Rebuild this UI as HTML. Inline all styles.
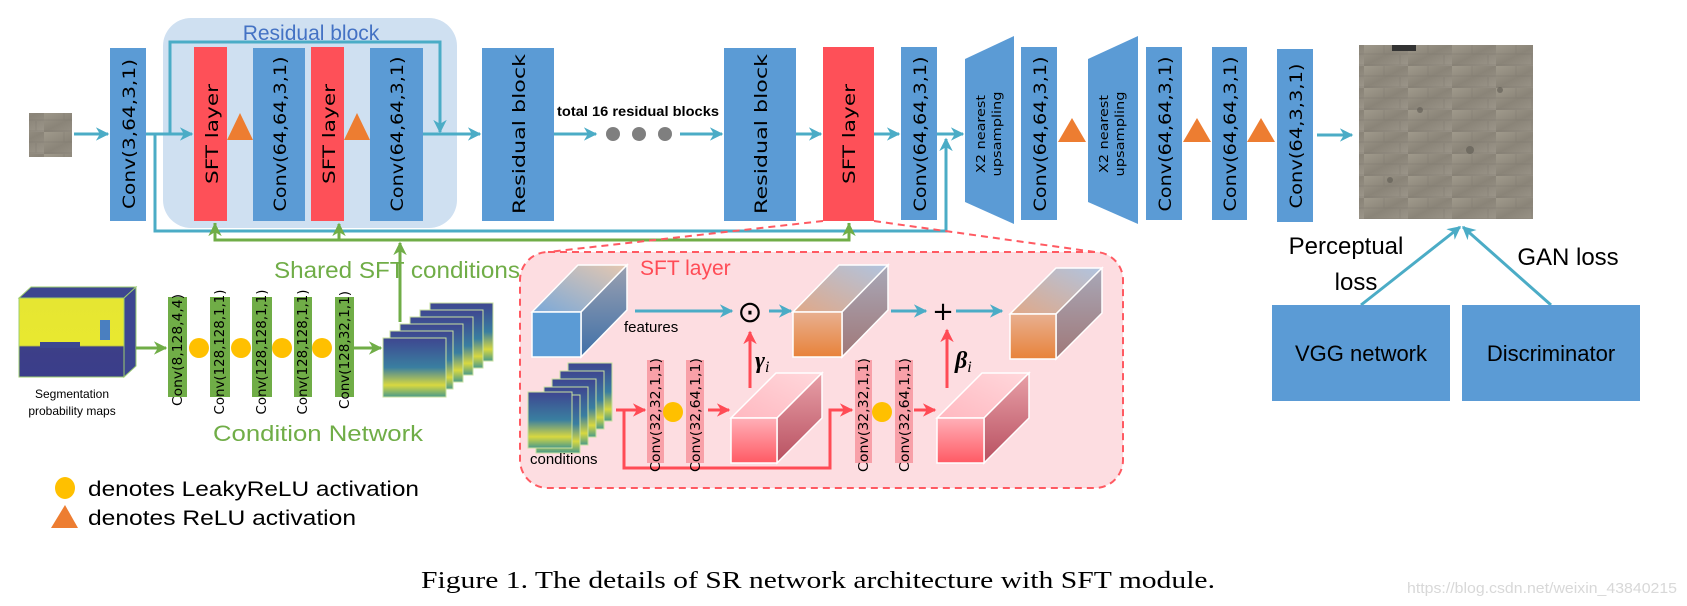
<!DOCTYPE html>
<html><head><meta charset="utf-8"><style>
html,body{margin:0;padding:0;background:#fff;}
svg{display:block;}
.lbl{font-family:"DejaVu Sans",sans-serif;font-size:17px;fill:#000;}
.cal{font-family:"Liberation Sans",sans-serif;}
.ser{font-family:"Liberation Serif",serif;}
</style></head><body>
<svg width="1687" height="606" viewBox="0 0 1687 606" xmlns="http://www.w3.org/2000/svg">
<defs>
<marker id="at" viewBox="0 0 10 10" refX="9" refY="5" markerWidth="4.5" markerHeight="4.5" orient="auto"><path d="M0,0 L10,5 L0,10 L3,5z" fill="#4bacc6"/></marker>
<marker id="ag" viewBox="0 0 10 10" refX="9" refY="5" markerWidth="4.5" markerHeight="4.5" orient="auto"><path d="M0,0 L10,5 L0,10 L3,5z" fill="#70ad47"/></marker>
<marker id="ar" viewBox="0 0 10 10" refX="9" refY="5" markerWidth="4.5" markerHeight="4.5" orient="auto"><path d="M0,0 L10,5 L0,10 L3,5z" fill="#ff4b55"/></marker>
<linearGradient id="img" x1="0" y1="0" x2="1" y2="1"><stop offset="0" stop-color="#a09a8c"/><stop offset=".5" stop-color="#8a8478"/><stop offset="1" stop-color="#9c968a"/></linearGradient>
<pattern id="stone" width="44" height="22" patternUnits="userSpaceOnUse"><rect width="44" height="22" fill="url(#img)"/><path d="M0,21 H44 M20,0 V10 M36,11 V21 M0,10 H44" stroke="#77726a" stroke-width="1" opacity=".35"/></pattern>
<linearGradient id="seg" x1="0" y1="0" x2="0" y2="1"><stop offset="0" stop-color="#e6e632"/><stop offset=".6" stop-color="#e8e830"/><stop offset=".62" stop-color="#3d3f88"/><stop offset="1" stop-color="#3a3d8a"/></linearGradient>
<linearGradient id="segs" x1="0" y1="0" x2="0" y2="1"><stop offset="0" stop-color="#3e4690"/><stop offset=".5" stop-color="#3a7fa0"/><stop offset=".8" stop-color="#d8d840"/><stop offset="1" stop-color="#4a9a8a"/></linearGradient>
<linearGradient id="btop" x1="0" y1="1" x2="1" y2="0"><stop offset="0" stop-color="#7aa8d8"/><stop offset="1" stop-color="#e6c8b0"/></linearGradient>
<linearGradient id="bside" x1="0" y1="0" x2="0" y2="1"><stop offset="0" stop-color="#9aa0b0"/><stop offset="1" stop-color="#3f70a8"/></linearGradient>
<linearGradient id="ofront" x1="0" y1="0" x2="0" y2="1"><stop offset="0" stop-color="#e8b090"/><stop offset="1" stop-color="#e8823a"/></linearGradient>
<linearGradient id="otop" x1="0" y1="1" x2="1" y2="0"><stop offset="0" stop-color="#e0a888"/><stop offset="1" stop-color="#b0c4e0"/></linearGradient>
<linearGradient id="oside" x1="0" y1="0" x2="0" y2="1"><stop offset="0" stop-color="#a8a8b8"/><stop offset="1" stop-color="#a07878"/></linearGradient>
<linearGradient id="pfront" x1="0" y1="0" x2="0" y2="1"><stop offset="0" stop-color="#ffb0b8"/><stop offset="1" stop-color="#ff5a64"/></linearGradient>
<linearGradient id="ptop" x1="0" y1="1" x2="1" y2="0"><stop offset="0" stop-color="#ffb8c0"/><stop offset="1" stop-color="#ffd8dc"/></linearGradient>
<linearGradient id="pside" x1="0" y1="0" x2="0" y2="1"><stop offset="0" stop-color="#e8a0a8"/><stop offset="1" stop-color="#b85060"/></linearGradient>
</defs>

<rect x="163" y="18" width="294" height="210" rx="28" fill="#cfe0f1"/>
<text x="311" y="40" text-anchor="middle" class="cal" font-size="21" fill="#4472c4">Residual block</text>

<rect x="29" y="113" width="43" height="44" fill="url(#stone)"/>

<g stroke="#4bacc6" stroke-width="3" fill="none">
<line x1="74" y1="134" x2="108" y2="134" marker-end="url(#at)"/>
<line x1="146" y1="134" x2="192" y2="134" marker-end="url(#at)"/>
<polyline points="170,134 170,42 440,42 440,132" marker-end="url(#at)"/>
<line x1="423" y1="134" x2="480" y2="134" marker-end="url(#at)"/>
<line x1="554" y1="134" x2="596" y2="134" marker-end="url(#at)"/>
<line x1="680" y1="134" x2="722" y2="134" marker-end="url(#at)"/>
<line x1="796" y1="134" x2="821" y2="134" marker-end="url(#at)"/>
<line x1="874" y1="134" x2="899" y2="134" marker-end="url(#at)"/>
<line x1="937" y1="134" x2="963" y2="134" marker-end="url(#at)"/>
<polyline points="155,134 155,231 946,231 946,139" marker-end="url(#at)"/>
<line x1="1317" y1="135" x2="1352" y2="135" marker-end="url(#at)"/>
<line x1="1361" y1="305" x2="1460" y2="227" marker-end="url(#at)"/>
<line x1="1551" y1="305" x2="1463" y2="227" marker-end="url(#at)"/>
</g>
<g stroke="#70ad47" stroke-width="3" fill="none">
<polyline points="215,223 215,240 849,240 849,223" />
<line x1="215" y1="240" x2="215" y2="224" marker-end="url(#ag)"/>
<line x1="339" y1="240" x2="339" y2="224" marker-end="url(#ag)"/>
<line x1="849" y1="240" x2="849" y2="224" marker-end="url(#ag)"/>
<line x1="400" y1="322" x2="400" y2="243" marker-end="url(#ag)"/>
</g>

<g fill="#5b9bd5">
<rect x="110" y="48" width="36" height="173"/>
<rect x="253" y="48" width="52" height="173"/>
<rect x="370" y="48" width="53" height="173"/>
<rect x="482" y="48" width="72" height="173"/>
<rect x="724" y="48" width="72" height="173"/>
<rect x="901" y="47" width="36" height="173"/>
<polygon points="965,59 1014,36 1014,224 965,202"/>
<rect x="1021" y="47" width="36" height="173"/>
<polygon points="1088,59 1138,36 1138,224 1088,202"/>
<rect x="1146" y="47" width="36" height="173"/>
<rect x="1212" y="47" width="35" height="173"/>
<rect x="1277" y="49" width="36" height="173"/>
<rect x="1272" y="305" width="178" height="96"/>
<rect x="1462" y="305" width="178" height="96"/>
</g>
<g fill="#fe5058">
<rect x="194" y="47" width="33" height="174"/>
<rect x="311" y="47" width="33" height="174"/>
<rect x="823" y="47" width="51" height="174"/>
</g>
<g fill="#ed7d31">
<polygon points="227,140 240,113 253,140"/>
<polygon points="344,140 357,113 370,140"/>
<polygon points="1058,142 1072,118 1086,142"/>
<polygon points="1183,142 1197,118 1211,142"/>
<polygon points="1247,142 1261,118 1275,142"/>
</g>
<g class="lbl">
<text transform="translate(135,134) rotate(-90)" text-anchor="middle" textLength="150" lengthAdjust="spacingAndGlyphs">Conv(3,64,3,1)</text>
<text transform="translate(218,134) rotate(-90)" text-anchor="middle" textLength="100" lengthAdjust="spacingAndGlyphs">SFT layer</text>
<text transform="translate(286,134) rotate(-90)" text-anchor="middle" textLength="155" lengthAdjust="spacingAndGlyphs">Conv(64,64,3,1)</text>
<text transform="translate(335,134) rotate(-90)" text-anchor="middle" textLength="100" lengthAdjust="spacingAndGlyphs">SFT layer</text>
<text transform="translate(403,134) rotate(-90)" text-anchor="middle" textLength="155" lengthAdjust="spacingAndGlyphs">Conv(64,64,3,1)</text>
<text transform="translate(525,134) rotate(-90)" text-anchor="middle" textLength="160" lengthAdjust="spacingAndGlyphs">Residual block</text>
<text transform="translate(767,134) rotate(-90)" text-anchor="middle" textLength="160" lengthAdjust="spacingAndGlyphs">Residual block</text>
<text transform="translate(855,134) rotate(-90)" text-anchor="middle" textLength="100" lengthAdjust="spacingAndGlyphs">SFT layer</text>
<text transform="translate(926,134) rotate(-90)" text-anchor="middle" textLength="155" lengthAdjust="spacingAndGlyphs">Conv(64,64,3,1)</text>
<text transform="translate(1046,134) rotate(-90)" text-anchor="middle" textLength="155" lengthAdjust="spacingAndGlyphs">Conv(64,64,3,1)</text>
<text transform="translate(1171,134) rotate(-90)" text-anchor="middle" textLength="155" lengthAdjust="spacingAndGlyphs">Conv(64,64,3,1)</text>
<text transform="translate(1236,134) rotate(-90)" text-anchor="middle" textLength="155" lengthAdjust="spacingAndGlyphs">Conv(64,64,3,1)</text>
<text transform="translate(1302,136) rotate(-90)" text-anchor="middle" textLength="145" lengthAdjust="spacingAndGlyphs">Conv(64,3,3,1)</text>
<text transform="translate(985,134) rotate(-90)" text-anchor="middle" font-size="12" textLength="78" lengthAdjust="spacingAndGlyphs">X2 nearest</text>
<text transform="translate(1001,134) rotate(-90)" text-anchor="middle" font-size="12" textLength="85" lengthAdjust="spacingAndGlyphs">upsampling</text>
<text transform="translate(1108,134) rotate(-90)" text-anchor="middle" font-size="12" textLength="78" lengthAdjust="spacingAndGlyphs">X2 nearest</text>
<text transform="translate(1124,134) rotate(-90)" text-anchor="middle" font-size="12" textLength="85" lengthAdjust="spacingAndGlyphs">upsampling</text>
</g>
<text x="557" y="116" class="cal" font-size="14" font-weight="bold" textLength="162" lengthAdjust="spacingAndGlyphs">total 16 residual blocks</text>
<g fill="#7f7f7f"><circle cx="613" cy="134" r="7"/><circle cx="639" cy="134" r="7"/><circle cx="665" cy="134" r="7"/></g>

<rect x="1359" y="45" width="174" height="174" fill="url(#stone)"/>
<g fill="#5e5a52" opacity=".6"><circle cx="1420" cy="110" r="3"/><circle cx="1470" cy="150" r="4"/><circle cx="1390" cy="180" r="3"/><circle cx="1500" cy="90" r="3"/></g>
<rect x="1392" y="45" width="24" height="6" fill="#333"/>
<text x="1346" y="254" text-anchor="middle" class="cal" font-size="24">Perceptual</text>
<text x="1356" y="290" text-anchor="middle" class="cal" font-size="24">loss</text>
<text x="1568" y="265" text-anchor="middle" class="cal" font-size="24">GAN loss</text>
<text x="1361" y="361" text-anchor="middle" class="cal" font-size="22">VGG network</text>
<text x="1551" y="361" text-anchor="middle" class="cal" font-size="22">Discriminator</text>

<rect x="520" y="252" width="603" height="236" rx="28" fill="#fddde1" stroke="#ff5a62" stroke-width="2" stroke-dasharray="7,5"/>
<line x1="823" y1="221" x2="548" y2="252" stroke="#ff5a62" stroke-width="2" stroke-dasharray="7,5"/>
<line x1="874" y1="221" x2="1095" y2="252" stroke="#ff5a62" stroke-width="2" stroke-dasharray="7,5"/>
<text x="640" y="275" class="cal" font-size="21" fill="#ff4b55">SFT layer</text>
<text x="274" y="278" class="cal" font-size="23" fill="#70ad47" textLength="246" lengthAdjust="spacingAndGlyphs">Shared SFT conditions</text>

<g stroke="#fff" stroke-width="1.5">
<polygon points="532,312 578,265 627,265 581,312" fill="url(#btop)"/>
<polygon points="581,312 627,265 627,310 581,357" fill="url(#bside)"/>
<rect x="532" y="312" width="49" height="45" fill="#5b9bd5"/>
<polygon points="793,312 839,265 888,265 842,312" fill="url(#otop)"/>
<polygon points="842,312 888,265 888,310 842,357" fill="url(#oside)"/>
<rect x="793" y="312" width="49" height="45" fill="url(#ofront)"/>
<polygon points="1010,314 1056,268 1102,268 1056,314" fill="url(#otop)"/>
<polygon points="1056,314 1102,268 1102,313 1056,359" fill="url(#oside)"/>
<rect x="1010" y="314" width="46" height="45" fill="url(#ofront)"/>
<polygon points="731,418 776,373 822,373 777,418" fill="url(#ptop)"/>
<polygon points="777,418 822,373 822,418 777,463" fill="url(#pside)"/>
<rect x="731" y="418" width="46" height="45" fill="url(#pfront)"/>
<polygon points="937,418 982,373 1029,373 984,418" fill="url(#ptop)"/>
<polygon points="984,418 1029,373 1029,418 984,463" fill="url(#pside)"/>
<rect x="937" y="418" width="47" height="45" fill="url(#pfront)"/>
</g>
<g stroke="#4bacc6" stroke-width="3" fill="none">
<line x1="635" y1="311" x2="732" y2="311" marker-end="url(#at)"/>
<line x1="769" y1="311" x2="791" y2="311" marker-end="url(#at)"/>
<line x1="891" y1="311" x2="926" y2="311" marker-end="url(#at)"/>
<line x1="956" y1="311" x2="1002" y2="311" marker-end="url(#at)"/>
</g>
<text x="750" y="322" text-anchor="middle" font-family="DejaVu Sans,sans-serif" font-size="30">⊙</text>
<text x="943" y="320" text-anchor="middle" font-family="DejaVu Sans,sans-serif" font-size="26">+</text>
<text x="624" y="332" class="cal" font-size="15">features</text>
<text x="755" y="368" class="ser" font-size="24" font-weight="bold" font-style="italic">γ<tspan font-size="16" dy="4" font-weight="normal">i</tspan></text>
<text x="955" y="368" class="ser" font-size="24" font-weight="bold" font-style="italic">β<tspan font-size="16" dy="4" font-weight="normal">i</tspan></text>
<g stroke="#ff4b55" stroke-width="3" fill="none">
<line x1="750" y1="388" x2="750" y2="332" marker-end="url(#ar)"/>
<line x1="947" y1="388" x2="947" y2="330" marker-end="url(#ar)"/>
<line x1="616" y1="410" x2="645" y2="410" marker-end="url(#ar)"/>
<line x1="708" y1="410" x2="729" y2="410" marker-end="url(#ar)"/>
<polyline points="624,410 624,468 830,468 830,410 852,410" marker-end="url(#ar)"/>
<line x1="914" y1="410" x2="935" y2="410" marker-end="url(#ar)"/>
</g>
<g fill="#f8a0a8">
<rect x="647" y="360" width="17" height="103"/>
<rect x="686" y="360" width="18" height="103"/>
<rect x="855" y="360" width="17" height="103"/>
<rect x="895" y="360" width="18" height="103"/>
</g>
<g fill="#ffc000"><ellipse cx="673" cy="412" rx="10" ry="10"/><ellipse cx="882" cy="412" rx="10" ry="10"/></g>
<g class="lbl">
<text transform="translate(660,415) rotate(-90)" text-anchor="middle" font-size="13" textLength="114" lengthAdjust="spacingAndGlyphs">Conv(32,32,1,1)</text>
<text transform="translate(700,415) rotate(-90)" text-anchor="middle" font-size="13" textLength="114" lengthAdjust="spacingAndGlyphs">Conv(32,64,1,1)</text>
<text transform="translate(868,415) rotate(-90)" text-anchor="middle" font-size="13" textLength="114" lengthAdjust="spacingAndGlyphs">Conv(32,32,1,1)</text>
<text transform="translate(909,415) rotate(-90)" text-anchor="middle" font-size="13" textLength="114" lengthAdjust="spacingAndGlyphs">Conv(32,64,1,1)</text>
</g>
<g stroke="#c8e0a0" stroke-width="1">
<rect x="568" y="363" width="44" height="58" fill="url(#segs)"/>
<rect x="560" y="371" width="44" height="58" fill="url(#segs)"/>
<rect x="552" y="379" width="44" height="58" fill="url(#segs)"/>
<rect x="544" y="387" width="44" height="58" fill="url(#segs)"/>
<rect x="536" y="395" width="44" height="58" fill="url(#segs)"/>
<rect x="528" y="392" width="44" height="56" fill="url(#segs)"/>
</g>
<text x="530" y="464" class="cal" font-size="15">conditions</text>

<polygon points="19,298 31,287 136,287 124,298" fill="#3d4690" stroke="#9ccc70"/>
<polygon points="124,298 136,287 136,366 124,377" fill="#3d4690" stroke="#9ccc70"/>
<rect x="19" y="298" width="105" height="79" fill="url(#seg)" stroke="#9ccc70"/>
<g fill="#3d4690"><rect x="40" y="342" width="40" height="6"/><rect x="100" y="320" width="10" height="20" fill="#4a7fc0"/></g>
<text x="72" y="398" text-anchor="middle" class="cal" font-size="12">Segmentation</text>
<text x="72" y="415" text-anchor="middle" class="cal" font-size="12">probability maps</text>
<g stroke="#70ad47" stroke-width="3">
<line x1="136" y1="348" x2="166" y2="348" marker-end="url(#ag)"/>
<line x1="354" y1="348" x2="381" y2="348" marker-end="url(#ag)"/>
</g>
<g fill="#70ad47">
<rect x="168" y="297" width="19" height="100"/>
<rect x="210" y="297" width="20" height="100"/>
<rect x="252" y="297" width="20" height="100"/>
<rect x="294" y="297" width="18" height="100"/>
<rect x="335" y="297" width="19" height="100"/>
</g>
<g fill="#ffc000"><circle cx="199" cy="348" r="10"/><circle cx="241" cy="348" r="10"/><circle cx="282" cy="348" r="10"/><circle cx="322" cy="348" r="10"/></g>
<g class="lbl">
<text transform="translate(182,350) rotate(-90)" text-anchor="middle" font-size="13" textLength="112" lengthAdjust="spacingAndGlyphs">Conv(8,128,4,4)</text>
<text transform="translate(224,352) rotate(-90)" text-anchor="middle" font-size="13" textLength="125" lengthAdjust="spacingAndGlyphs">Conv(128,128,1,1)</text>
<text transform="translate(266,352) rotate(-90)" text-anchor="middle" font-size="13" textLength="125" lengthAdjust="spacingAndGlyphs">Conv(128,128,1,1)</text>
<text transform="translate(307,352) rotate(-90)" text-anchor="middle" font-size="13" textLength="125" lengthAdjust="spacingAndGlyphs">Conv(128,128,1,1)</text>
<text transform="translate(349,350) rotate(-90)" text-anchor="middle" font-size="13" textLength="118" lengthAdjust="spacingAndGlyphs">Conv(128,32,1,1)</text>
</g>
<g stroke="#c8e0a0" stroke-width="1">
<rect x="430" y="303" width="63" height="58" fill="url(#segs)"/>
<rect x="420" y="310" width="63" height="58" fill="url(#segs)"/>
<rect x="410" y="317" width="63" height="58" fill="url(#segs)"/>
<rect x="400" y="324" width="63" height="58" fill="url(#segs)"/>
<rect x="390" y="331" width="63" height="58" fill="url(#segs)"/>
<rect x="383" y="338" width="63" height="59" fill="url(#segs)"/>
</g>
<text x="213" y="441" class="cal" font-size="22" fill="#70ad47" textLength="210" lengthAdjust="spacingAndGlyphs">Condition Network</text>

<ellipse cx="65" cy="488" rx="10" ry="11" fill="#ffc000"/>
<text x="88" y="496" class="cal" font-size="21" textLength="331" lengthAdjust="spacingAndGlyphs">denotes LeakyReLU activation</text>
<polygon points="51,528 65,505 78,528" fill="#ed7d31"/>
<text x="88" y="525" class="cal" font-size="21" textLength="268" lengthAdjust="spacingAndGlyphs">denotes ReLU activation</text>

<text x="421" y="588" class="ser" font-size="24" textLength="794" lengthAdjust="spacingAndGlyphs">Figure 1. The details of SR network architecture with SFT module.</text>
<text x="1407" y="593" class="cal" font-size="15" fill="#d8d8d8" textLength="270" lengthAdjust="spacingAndGlyphs">https://blog.csdn.net/weixin_43840215</text>
</svg>
</body></html>
